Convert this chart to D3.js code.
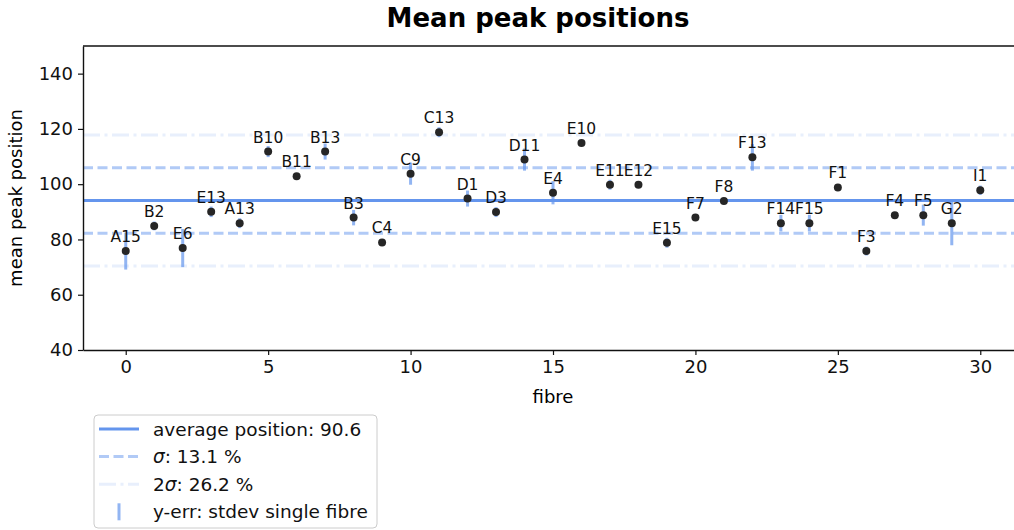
<!DOCTYPE html>
<html>
<head>
<meta charset="utf-8">
<script src="https://cdn.jsdelivr.net/npm/d3@7"></script>
<style>
  body { margin: 0; background: #fff; }
  svg { display: block; font-family: "DejaVu Sans", sans-serif; }
</style>
</head>
<body>
<svg width="1014" height="530"></svg>
<script>
// fibre labels, mean peak positions and stdev per fibre
const fibreNames = ["A15","B2","E6","E13","A13","B10","B11","B13","B3","C4","C9","C13","D1","D3","D11","E4",
                    "E10","E11","E12","E15","F7","F8","F13","F14","F15","F1","F3","F4","F5","G2","I1"];
const meanPos = [75.8,84.9,76.9,90.0,85.9,111.8,102.9,111.8,87.9,78.9,103.8,118.8,94.8,89.9,108.9,96.9,
                 114.9,99.8,99.8,78.8,87.9,93.9,109.7,85.9,85.9,98.8,75.8,88.8,88.8,85.9,97.8];
const stdevs = [6.7,1.6,6.9,1.9,1.8,2.0,0.5,2.9,2.8,0.5,4.0,1.8,2.9,1.8,4.0,4.2,
                0.5,1.8,0.5,1.8,0.5,0.6,4.8,3.0,3.0,0.5,1.6,0.5,3.8,8.0,1.7];

// reference lines drawn in the chart
const avgLine = 94.1;
const sigma = 11.87;
// legend entries: [prefix, italic part, rest]
const legendLabels = [["", "", "average position: 90.6"], ["", "\u03c3", ": 13.1 %"], ["2", "\u03c3", ": 26.2 %"], ["", "", "y-err: stdev single fibre"]];

const xTicks = [0, 5, 10, 15, 20, 25, 30];
const yTicks = [40, 60, 80, 100, 120, 140];

const svg = d3.select("svg");
const blue = "#6495ed";

// axes box
const plotL = 83, plotT = 46, plotB = 350, plotR = 1023;

const x = d3.scaleLinear().domain([-1.5, 31.5]).range([plotL, plotR]);
const y = d3.scaleLinear().domain([40, 150]).range([plotB, plotT]);

// title
svg.append("text")
    .attr("x", 538).attr("y", 27)
    .attr("text-anchor", "middle")
    .style("font-size", "26px").style("font-weight", "bold")
    .text("Mean peak positions");

// horizontal reference lines
const refLines = [
    { v: avgLine, dash: null, op: 1 },
    { v: avgLine + sigma, dash: "10,4.5", op: 0.5 },
    { v: avgLine - sigma, dash: "10,4.5", op: 0.5 },
    { v: avgLine + 2 * sigma, dash: "17,4.5,3,4.5", op: 0.15 },
    { v: avgLine - 2 * sigma, dash: "17,4.5,3,4.5", op: 0.15 }
];
svg.append("g").selectAll("line")
    .data(refLines)
    .join("line")
    .attr("x1", plotL).attr("x2", plotR)
    .attr("y1", d => y(d.v)).attr("y2", d => y(d.v))
    .attr("stroke", blue).attr("stroke-width", 3)
    .attr("stroke-opacity", d => d.op)
    .attr("stroke-dasharray", d => d.dash);

// error bars
svg.append("g").selectAll("line")
    .data(meanPos)
    .join("line")
    .attr("x1", (d, i) => x(i)).attr("x2", (d, i) => x(i))
    .attr("y1", (d, i) => y(d - stdevs[i]))
    .attr("y2", (d, i) => y(d + stdevs[i]))
    .attr("stroke", blue).attr("stroke-width", 3).attr("stroke-opacity", 0.7);

// markers
svg.append("g").selectAll("circle")
    .data(meanPos)
    .join("circle")
    .attr("cx", (d, i) => x(i)).attr("cy", d => y(d))
    .attr("r", 4)
    .attr("fill", "#262626");

// fibre name labels
svg.append("g").selectAll("text")
    .data(meanPos)
    .join("text")
    .attr("x", (d, i) => x(i)).attr("y", d => y(d) - 9)
    .attr("text-anchor", "middle")
    .style("font-size", "15.5px")
    .attr("fill", "#111")
    .text((d, i) => fibreNames[i]);

// axes
const xAxis = svg.append("g")
    .attr("transform", `translate(0,${plotB})`)
    .call(d3.axisBottom(x).tickValues(xTicks).tickSize(5).tickPadding(5).tickSizeOuter(0));
const yAxis = svg.append("g")
    .attr("transform", `translate(${plotL},0)`)
    .call(d3.axisLeft(y).tickValues(yTicks).tickSize(5).tickPadding(5).tickSizeOuter(0));
[xAxis, yAxis].forEach(g => {
    g.selectAll("text").style("font-size", "18px").attr("fill", "#111")
        .style("font-family", "DejaVu Sans, sans-serif");
    g.selectAll("line").attr("stroke", "#111").attr("stroke-width", 1.2);
    g.select(".domain").attr("stroke", "#111").attr("stroke-width", 1.4);
});
// top and right spines
svg.append("line").attr("x1", plotL).attr("x2", plotR).attr("y1", plotT).attr("y2", plotT)
    .attr("stroke", "#111").attr("stroke-width", 1.4);
svg.append("line").attr("x1", plotR).attr("x2", plotR).attr("y1", plotT).attr("y2", plotB)
    .attr("stroke", "#111").attr("stroke-width", 1.4);

// axis labels
svg.append("text")
    .attr("x", 553).attr("y", 403)
    .attr("text-anchor", "middle").style("font-size", "18px")
    .text("fibre");
svg.append("text")
    .attr("transform", `translate(22,${(plotT + plotB) / 2}) rotate(-90)`)
    .attr("text-anchor", "middle").style("font-size", "18px")
    .text("mean peak position");

// legend
const lg = svg.append("g").attr("transform", "translate(94,415)");
lg.append("rect")
    .attr("width", 283).attr("height", 113).attr("rx", 4)
    .attr("fill", "#fff").attr("stroke", "#ccc").attr("stroke-width", 1);
const rows = [
    { dash: null, op: 1 },
    { dash: "10,4.5", op: 0.5 },
    { dash: "17,4.5,3,4.5", op: 0.15 },
    { bar: true }
];
rows.forEach((r, i) => {
    const ry = 14 + i * 27.6;
    if (r.bar) {
        lg.append("line").attr("x1", 25).attr("x2", 25).attr("y1", ry - 8.5).attr("y2", ry + 8.5)
            .attr("stroke", blue).attr("stroke-width", 3).attr("stroke-opacity", 0.7);
    } else {
        lg.append("line").attr("x1", 5).attr("x2", 45).attr("y1", ry).attr("y2", ry)
            .attr("stroke", blue).attr("stroke-width", 3)
            .attr("stroke-opacity", r.op).attr("stroke-dasharray", r.dash);
    }
    const t = lg.append("text").attr("x", 59).attr("y", ry + 6.5)
        .style("font-size", "18.5px").attr("fill", "#111");
    const parts = legendLabels[i];
    if (parts[0]) t.append("tspan").text(parts[0]);
    if (parts[1]) t.append("tspan").style("font-style", "italic").text(parts[1]);
    t.append("tspan").text(parts[2]);
});
</script>
</body>
</html>
